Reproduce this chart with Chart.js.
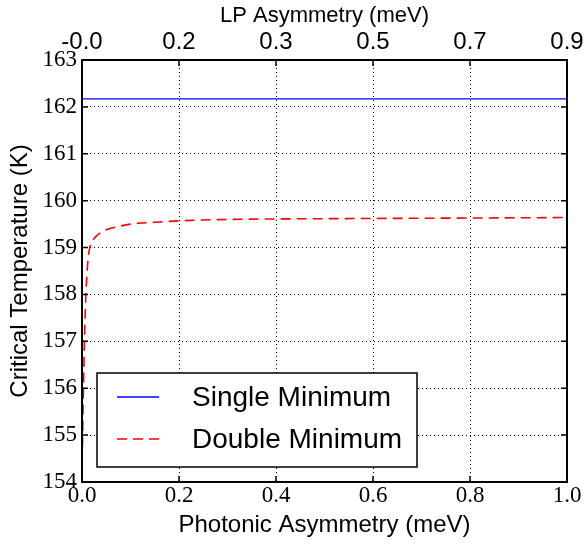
<!DOCTYPE html>
<html>
<head>
<meta charset="utf-8">
<script src="https://cdn.jsdelivr.net/npm/chart.js@4.4.1/dist/chart.umd.min.js"></script>
<style>
  html, body { margin: 0; padding: 0; background: #fff; }
  #wrap { width: 587px; height: 545px; }
</style>
</head>
<body>
<div id="wrap"><canvas id="tc_chart" width="587" height="545"></canvas></div>
<script>
// data
const single_x = [0, 1];
const single_y = [162.17, 162.17];

const double_x = [0.001, 0.003, 0.005, 0.008, 0.012, 0.016, 0.022, 0.03, 0.05, 0.075, 0.1, 0.15, 0.2, 0.3, 0.4, 0.6, 0.8, 1.0];
const double_y = [154.75, 156.0, 157.0, 158.0, 158.7, 159.0, 159.15, 159.25, 159.38, 159.45, 159.5, 159.54, 159.57, 159.6, 159.61, 159.62, 159.63, 159.64];

const top_tick_labels = ['-0.0', '0.2', '0.3', '0.5', '0.7', '0.9'];

const serif = '"Liberation Serif", "DejaVu Serif", serif';
const sans = '"Liberation Sans", Arial, sans-serif';


// frame, inward ticks and legend inside the plot
const frame_plugin = {
    id: 'frame',
    afterDraw(chart) {
        const ctx = chart.ctx;
        const a = chart.chartArea;
        const xs = chart.scales.x;
        const ys = chart.scales.y;

        ctx.save();
        ctx.strokeStyle = '#000';
        ctx.lineWidth = 1.5;
        ctx.setLineDash([]);

        ctx.beginPath();
        xs.ticks.forEach(t => {
            const px = xs.getPixelForValue(t.value);
            ctx.moveTo(px, a.bottom); ctx.lineTo(px, a.bottom - 6);
            ctx.moveTo(px, a.top); ctx.lineTo(px, a.top + 6);
        });
        ys.ticks.forEach(t => {
            const py = ys.getPixelForValue(t.value);
            ctx.moveTo(a.left, py); ctx.lineTo(a.left + 6, py);
            ctx.moveTo(a.right, py); ctx.lineTo(a.right - 6, py);
        });
        ctx.stroke();

        ctx.lineWidth = 2;
        ctx.strokeRect(a.left, a.top, a.right - a.left, a.bottom - a.top);

        // legend box
        const bx = a.left + 15, by = a.bottom - 109, bw = 320, bh = 94;
        ctx.fillStyle = '#fff';
        ctx.fillRect(bx, by, bw, bh);
        ctx.lineWidth = 1.5;
        ctx.strokeRect(bx, by, bw, bh);

        ctx.font = '28px ' + sans;
        ctx.textBaseline = 'middle';
        chart.data.datasets.forEach((ds, i) => {
            const ly = by + 24 + i * 42;
            ctx.strokeStyle = ds.borderColor;
            ctx.lineWidth = ds.borderWidth;
            ctx.setLineDash(ds.borderDash || []);
            ctx.beginPath();
            ctx.moveTo(bx + 20, ly);
            ctx.lineTo(bx + 62, ly);
            ctx.stroke();
            ctx.setLineDash([]);
            ctx.fillStyle = '#000';
            ctx.fillText(ds.label, bx + 95, ly + 1);
        });
        ctx.restore();
    }
};


$_ready = function(){

    const ctx = document.getElementById('tc_chart');

    const chart_data = {
        datasets: [{
            label: 'Single Minimum',
            data: single_x.map((x, i) => ({x: x, y: single_y[i]})),
            borderColor: '#0000ff',
            borderWidth: 1.3,
            pointRadius: 0,
            fill: false
        }, {
            label: 'Double Minimum',
            data: double_x.map((x, i) => ({x: x, y: double_y[i]})),
            borderColor: '#ff0000',
            borderWidth: 1.6,
            borderDash: [10, 6],
            pointRadius: 0,
            cubicInterpolationMode: 'monotone',
            fill: false
        }]
    };

    const config = {
        type: 'line',
        data: chart_data,
        options: {
            responsive: false,
            animation: false,
            layout: { padding: { left: 0, right: 20, top: 0, bottom: 5 } },
            plugins: {
                legend: { display: false },
                tooltip: { enabled: false }
            },
            scales: {
                x: {
                    type: 'linear',
                    position: 'bottom',
                    min: 0,
                    max: 1,
                    border: { display: false, dash: [1, 3] },
                    grid: {
                        color: '#000',
                        lineWidth: 1,
                        drawTicks: false
                    },
                    ticks: {
                        stepSize: 0.2,
                        padding: 0,
                        color: '#000',
                        maxRotation: 0,
                        font: { family: serif, size: 23 },
                        callback: v => v.toFixed(1)
                    },
                    title: {
                        display: true,
                        text: 'Photonic Asymmetry (meV)',
                        color: '#000',
                        padding: { top: 0, bottom: 0 },
                        font: { family: sans, size: 24 }
                    },
                    afterFit: scale => { scale.height = 58; }
                },
                x2: {
                    type: 'linear',
                    position: 'top',
                    min: 0,
                    max: 1,
                    border: { display: false },
                    grid: { display: false },
                    ticks: {
                        stepSize: 0.2,
                        padding: -5,
                        color: '#000',
                        maxRotation: 0,
                        font: { family: sans, size: 24 },
                        callback: (v, i) => top_tick_labels[i]
                    },
                    title: {
                        display: true,
                        text: 'LP Asymmetry (meV)',
                        color: '#000',
                        padding: { top: 3, bottom: 0 },
                        font: { family: sans, size: 22 }
                    },
                    afterFit: scale => { scale.height = 60; }
                },
                y: {
                    min: 154,
                    max: 163,
                    border: { display: false, dash: [1, 3] },
                    grid: {
                        color: '#000',
                        lineWidth: 1,
                        drawTicks: false
                    },
                    ticks: {
                        stepSize: 1,
                        padding: 5,
                        color: '#000',
                        font: { family: serif, size: 23 }
                    },
                    title: {
                        display: true,
                        text: 'Critical Temperature (K)',
                        color: '#000',
                        padding: { top: 6, bottom: 0 },
                        font: { family: sans, size: 24 }
                    },
                    afterFit: scale => { scale.width = 82; }
                }
            }
        },
        plugins: [frame_plugin]
    };

    new Chart(ctx, config);
};
$_ready();
</script>
</body>
</html>
